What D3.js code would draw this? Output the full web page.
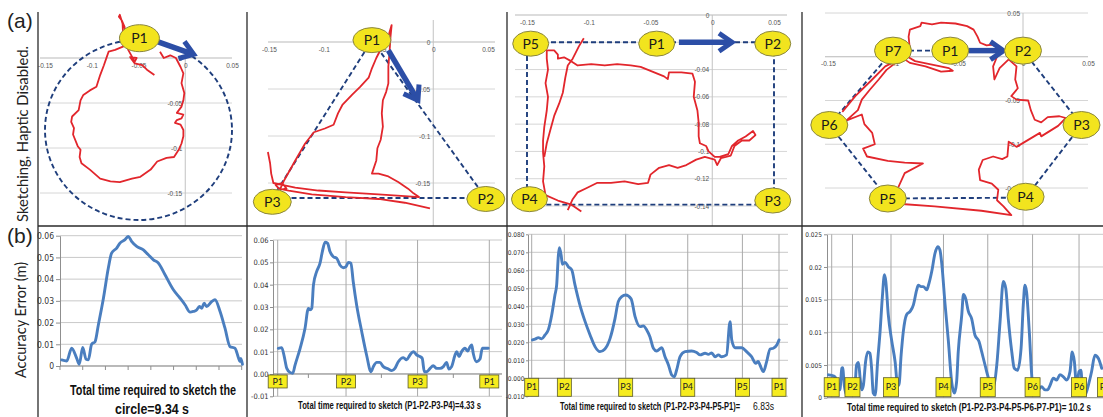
<!DOCTYPE html>
<html>
<head>
<meta charset="utf-8">
<script src="https://cdnjs.cloudflare.com/ajax/libs/d3/7.8.5/d3.min.js"></script>
<style>
  body { margin: 0; background: #fff; }
  svg { display: block; font-family: "Liberation Sans", Arial, sans-serif; }
</style>
</head>
<body>
<svg id="fig" width="1103" height="417"></svg>
<script>
// ---------- (a) sketched paths, metres ----------
const topXTicks = [-0.15, -0.1, -0.05, 0, 0.05];
const circleYTicks = [0, -0.05, -0.1, -0.15];
const triYTicks = [0, -0.05, -0.1, -0.15];
const rectYTicks = [0, -0.02, -0.04, -0.06, -0.08, -0.1, -0.12, -0.14];
const hexYTicks = [0.05, 0, -0.05, -0.1, -0.15];

// target shapes (dashed)
const circleGuide = [-0.05, -0.08, 0.1];   // cx, cy, r
const triGuide = [[-0.056, 0.002], [0.048, -0.166], [-0.147, -0.166]];
const rectGuide = [[-0.15, -0.02], [0.05, -0.02], [0.05, -0.139], [-0.15, -0.139]];
const hexGuide = [[-0.100, 0.007], [0.0, 0.007], [0.045, -0.078], [0.002, -0.161], [-0.104, -0.162], [-0.149, -0.078]];

// via-point labels
const circlePoints = [["P1", -0.049, 0.022]];
const triPoints = [["P1", -0.056, 0.002], ["P2", 0.048, -0.167], ["P3", -0.147, -0.170]];
const rectPoints = [["P5", -0.147, -0.021], ["P1", -0.045, -0.021], ["P2", 0.049, -0.021], ["P3", 0.049, -0.136], ["P4", -0.148, -0.135]];
const hexPoints = [["P7", -0.100, 0.007], ["P1", -0.056, 0.007], ["P2", 0.0, 0.007], ["P3", 0.045, -0.078], ["P4", 0.002, -0.160], ["P5", -0.104, -0.162], ["P6", -0.149, -0.078]];

// direction arrows
const circleArrow = [[-0.029, 0.018], [0.009, 0.004]];
const triArrow = [[-0.041, -0.009], [-0.014, -0.062]];
const rectArrow = [[-0.027, -0.020], [0.016, -0.020]];
const hexArrow = [[-0.042, 0.007], [-0.015, 0.007]];

// recorded end-effector traces
const circleTrace = [[-0.033,-0.019],[-0.041,-0.013],[-0.046,-0.008],[-0.054,-0.006],[-0.057,-0.002],[-0.059,0.001],[-0.052,0.000],[-0.054,-0.004],[-0.061,0.009],[-0.062,0.014],[-0.065,0.035],[-0.068,0.042],[-0.071,0.046],[-0.070,0.048],[-0.067,0.038],[-0.066,0.013],[-0.075,0.009],[-0.082,0.007],[-0.084,0.001],[-0.087,-0.008],[-0.091,-0.019],[-0.095,-0.032],[-0.102,-0.036],[-0.109,-0.041],[-0.112,-0.047],[-0.114,-0.058],[-0.121,-0.065],[-0.122,-0.071],[-0.119,-0.078],[-0.120,-0.085],[-0.115,-0.098],[-0.112,-0.102],[-0.113,-0.110],[-0.111,-0.117],[-0.102,-0.124],[-0.091,-0.134],[-0.080,-0.137],[-0.070,-0.138],[-0.057,-0.134],[-0.048,-0.132],[-0.037,-0.124],[-0.030,-0.115],[-0.020,-0.111],[-0.012,-0.110],[-0.007,-0.102],[-0.004,-0.095],[-0.002,-0.087],[-0.002,-0.080],[-0.005,-0.074],[-0.011,-0.072],[-0.009,-0.069],[-0.004,-0.067],[-0.002,-0.063],[-0.009,-0.061],[-0.004,-0.054],[-0.002,-0.047],[-0.001,-0.039],[-0.004,-0.028],[-0.002,-0.017],[-0.005,-0.010],[-0.010,0.000],[-0.016,0.003],[-0.023,0.000],[-0.027,0.007]];

const triTrace = [[-0.003,-0.177],[-0.026,-0.171],[-0.050,-0.167],[-0.080,-0.165],[-0.111,-0.162],[-0.132,-0.158],[-0.141,-0.156],[-0.144,-0.152],[-0.138,-0.150],[-0.134,-0.156],[-0.140,-0.157],[-0.137,-0.149],[-0.126,-0.126],[-0.117,-0.108],[-0.109,-0.096],[-0.099,-0.092],[-0.091,-0.088],[-0.087,-0.076],[-0.083,-0.067],[-0.074,-0.056],[-0.067,-0.048],[-0.059,-0.038],[-0.056,-0.028],[-0.052,-0.017],[-0.048,-0.008],[-0.041,0.006],[-0.038,0.018],[-0.039,0.006],[-0.040,-0.012],[-0.041,-0.026],[-0.041,-0.044],[-0.043,-0.053],[-0.046,-0.062],[-0.047,-0.076],[-0.046,-0.090],[-0.048,-0.104],[-0.051,-0.113],[-0.052,-0.126],[-0.056,-0.140],[-0.050,-0.140],[-0.041,-0.143],[-0.032,-0.149],[-0.023,-0.156],[-0.018,-0.161],[-0.013,-0.165],[-0.026,-0.164],[-0.050,-0.162],[-0.080,-0.160],[-0.105,-0.158],[-0.126,-0.155],[-0.138,-0.152],[-0.146,-0.150],[-0.148,-0.140],[-0.149,-0.129],[-0.151,-0.117]];

const rectTraceA = [[-0.106,-0.144],[-0.114,-0.139],[-0.125,-0.136],[-0.135,-0.132],[-0.137,-0.122],[-0.136,-0.111],[-0.137,-0.101],[-0.137,-0.092],[-0.136,-0.082],[-0.134,-0.070],[-0.133,-0.060],[-0.135,-0.050],[-0.133,-0.040],[-0.134,-0.032],[-0.134,-0.026],[-0.128,-0.026],[-0.125,-0.029],[-0.125,-0.032],[-0.120,-0.031],[-0.114,-0.034],[-0.109,-0.037],[-0.098,-0.036],[-0.087,-0.037],[-0.077,-0.036],[-0.066,-0.037],[-0.058,-0.038],[-0.047,-0.042],[-0.039,-0.045],[-0.036,-0.047],[-0.035,-0.042],[-0.025,-0.042],[-0.016,-0.043],[-0.014,-0.049],[-0.015,-0.060],[-0.012,-0.070],[-0.011,-0.079],[-0.011,-0.089],[-0.010,-0.094],[-0.005,-0.096],[-0.003,-0.100],[0.002,-0.104],[0.006,-0.104],[0.013,-0.102],[0.016,-0.096],[0.021,-0.092],[0.027,-0.089],[0.033,-0.085],[0.035,-0.088],[0.030,-0.092],[0.024,-0.092],[0.018,-0.096],[0.015,-0.103],[0.007,-0.105],[0.004,-0.110],[0.002,-0.106],[-0.006,-0.104],[-0.013,-0.106],[-0.021,-0.110],[-0.028,-0.112],[-0.035,-0.110],[-0.043,-0.112],[-0.050,-0.117],[-0.052,-0.123],[-0.060,-0.124],[-0.071,-0.122],[-0.082,-0.123],[-0.093,-0.123],[-0.102,-0.127],[-0.109,-0.130],[-0.113,-0.135],[-0.117,-0.143]];
const rectTraceB = [[-0.104,-0.017],[-0.108,-0.023],[-0.113,-0.032],[-0.117,-0.037],[-0.119,-0.046],[-0.121,-0.057],[-0.124,-0.065],[-0.128,-0.074],[-0.131,-0.084],[-0.134,-0.094],[-0.136,-0.104]];

const hexTrace = [[-0.139,-0.063],[-0.129,-0.045],[-0.116,-0.026],[-0.106,-0.011],[-0.098,-0.005],[-0.091,0.002],[-0.083,-0.005],[-0.070,-0.009],[-0.057,-0.013],[-0.054,-0.016],[-0.063,-0.017],[-0.075,-0.011],[-0.087,-0.007],[-0.091,-0.003],[-0.087,0.008],[-0.088,0.023],[-0.087,0.031],[-0.079,0.035],[-0.078,0.039],[-0.070,0.037],[-0.063,0.039],[-0.052,0.038],[-0.043,0.035],[-0.038,0.031],[-0.035,0.023],[-0.033,0.016],[-0.028,0.013],[-0.023,0.014],[-0.019,0.009],[-0.020,0.000],[-0.023,-0.011],[-0.022,-0.026],[-0.018,-0.013],[-0.011,-0.003],[-0.005,-0.011],[-0.006,-0.026],[-0.004,-0.036],[-0.009,-0.045],[-0.005,-0.049],[0.004,-0.050],[0.006,-0.061],[0.009,-0.072],[0.014,-0.075],[0.019,-0.069],[0.028,-0.068],[0.033,-0.070],[0.027,-0.079],[0.014,-0.091],[0.013,-0.087],[0.004,-0.095],[-0.005,-0.103],[-0.011,-0.097],[-0.012,-0.114],[-0.016,-0.117],[-0.023,-0.114],[-0.031,-0.118],[-0.034,-0.129],[-0.033,-0.141],[-0.024,-0.145],[-0.019,-0.152],[-0.020,-0.164],[-0.015,-0.171],[-0.009,-0.181],[-0.032,-0.176],[-0.068,-0.171],[-0.096,-0.168],[-0.098,-0.156],[-0.091,-0.133],[-0.077,-0.122],[-0.091,-0.121],[-0.104,-0.119],[-0.120,-0.114],[-0.123,-0.105],[-0.114,-0.100],[-0.116,-0.087],[-0.122,-0.077],[-0.124,-0.066],[-0.136,-0.073],[-0.127,-0.061],[-0.124,-0.049],[-0.118,-0.038],[-0.111,-0.026],[-0.105,-0.015],[-0.098,-0.007],[-0.092,-0.003]];

// ---------- (b) accuracy error over normalised time ----------
const circleT = [0.009,0.037,0.064,0.092,0.106,0.125,0.143,0.156,0.174,0.193,0.211,0.239,0.266,0.284,0.312,0.330,0.358,0.376,0.394,0.422,0.459,0.486,0.514,0.541,0.578,0.624,0.661,0.688,0.716,0.734,0.752,0.767,0.780,0.793,0.807,0.835,0.853,0.881,0.908,0.936,0.963,0.982,0.991,0.995,1.004];
const circleErr = [0.0028,0.0023,0.0082,0.0035,0.0008,0.0085,0.0032,0.0028,0.0100,0.0112,0.0189,0.0312,0.0451,0.0520,0.0543,0.0566,0.0582,0.0597,0.0574,0.0551,0.0535,0.0512,0.0489,0.0474,0.0420,0.0351,0.0312,0.0282,0.0248,0.0251,0.0258,0.0274,0.0266,0.0289,0.0274,0.0297,0.0305,0.0251,0.0174,0.0089,0.0082,0.0038,0.0020,0.0035,0.0008];

const triT = [0.003,0.019,0.031,0.043,0.058,0.071,0.082,0.106,0.129,0.145,0.153,0.161,0.169,0.184,0.200,0.211,0.224,0.236,0.247,0.263,0.279,0.294,0.310,0.323,0.334,0.346,0.357,0.373,0.397,0.420,0.441,0.452,0.468,0.483,0.499,0.523,0.539,0.554,0.570,0.594,0.609,0.625,0.641,0.657,0.672,0.683,0.693,0.704,0.720,0.735,0.751,0.767,0.783,0.798,0.809,0.822,0.838,0.846,0.857,0.869,0.885,0.898,0.909,0.917,0.924,0.940,0.956,0.967,0.980,0.995];
const triErr = [0.0115,0.0118,0.0078,0.0025,0.0007,0.0003,0.0040,0.0115,0.0204,0.0294,0.0287,0.0294,0.0399,0.0458,0.0496,0.0548,0.0590,0.0585,0.0548,0.0525,0.0518,0.0488,0.0476,0.0481,0.0500,0.0496,0.0413,0.0309,0.0190,0.0085,0.0010,0.0033,0.0052,0.0052,0.0033,0.0022,0.0015,0.0025,0.0055,0.0073,0.0063,0.0085,0.0100,0.0085,0.0078,0.0070,0.0010,0.0010,0.0025,0.0037,0.0025,0.0025,0.0033,0.0052,0.0022,0.0033,0.0085,0.0100,0.0078,0.0100,0.0115,0.0103,0.0122,0.0130,0.0093,0.0055,0.0067,0.0115,0.0115,0.0115];

const rectT = [0.003,0.016,0.027,0.040,0.054,0.067,0.081,0.094,0.101,0.108,0.112,0.119,0.124,0.135,0.148,0.162,0.175,0.195,0.216,0.236,0.256,0.276,0.296,0.317,0.337,0.350,0.364,0.380,0.402,0.418,0.438,0.451,0.465,0.478,0.492,0.505,0.526,0.539,0.553,0.566,0.577,0.586,0.600,0.620,0.647,0.667,0.681,0.701,0.714,0.728,0.741,0.755,0.768,0.788,0.802,0.809,0.822,0.849,0.869,0.889,0.906,0.916,0.923,0.937,0.950,0.964,0.977,0.991,1.000];
const rectErr = [0.0213,0.0219,0.0226,0.0219,0.0241,0.0269,0.0352,0.0463,0.0519,0.0685,0.0726,0.0685,0.0633,0.0644,0.0620,0.0602,0.0519,0.0407,0.0315,0.0241,0.0176,0.0148,0.0163,0.0222,0.0333,0.0426,0.0454,0.0463,0.0441,0.0343,0.0287,0.0291,0.0269,0.0231,0.0167,0.0152,0.0170,0.0120,0.0074,0.0019,0.0009,0.0046,0.0120,0.0148,0.0152,0.0143,0.0130,0.0139,0.0133,0.0141,0.0120,0.0130,0.0120,0.0130,0.0315,0.0213,0.0170,0.0170,0.0148,0.0120,0.0083,0.0093,0.0074,0.0037,0.0093,0.0163,0.0167,0.0185,0.0213];

const hexT = [-0.012,0.000,0.012,0.024,0.030,0.037,0.040,0.046,0.055,0.061,0.073,0.085,0.091,0.098,0.104,0.110,0.116,0.124,0.132,0.140,0.146,0.152,0.159,0.168,0.177,0.185,0.193,0.198,0.207,0.220,0.232,0.241,0.246,0.254,0.262,0.274,0.287,0.299,0.311,0.317,0.327,0.335,0.348,0.354,0.366,0.378,0.388,0.396,0.402,0.415,0.427,0.439,0.449,0.457,0.463,0.476,0.482,0.490,0.500,0.512,0.524,0.539,0.549,0.561,0.576,0.591,0.604,0.616,0.628,0.637,0.646,0.659,0.668,0.680,0.693,0.701,0.707,0.713,0.723,0.734,0.744,0.756,0.768,0.780,0.790,0.799,0.811,0.823,0.835,0.848,0.860,0.872,0.880,0.888,0.896,0.905,0.912,0.918,0.927,0.939,0.951,0.963,0.976,0.988];
const hexErr = [0.0035,0.0034,0.0032,0.0019,0.0012,0.0045,0.0046,0.0019,0.0004,0.0009,0.0012,0.0019,0.0050,0.0054,0.0030,0.0012,0.0019,0.0055,0.0070,0.0068,0.0045,0.0007,0.0004,0.0055,0.0101,0.0152,0.0188,0.0178,0.0127,0.0086,0.0055,0.0019,0.0019,0.0065,0.0101,0.0127,0.0132,0.0142,0.0165,0.0172,0.0170,0.0170,0.0165,0.0172,0.0193,0.0221,0.0231,0.0226,0.0208,0.0142,0.0086,0.0024,0.0007,0.0024,0.0070,0.0127,0.0158,0.0152,0.0132,0.0121,0.0096,0.0086,0.0070,0.0050,0.0027,0.0017,0.0050,0.0116,0.0178,0.0167,0.0121,0.0070,0.0045,0.0042,0.0076,0.0142,0.0172,0.0162,0.0101,0.0024,0.0009,0.0012,0.0017,0.0012,0.0012,0.0019,0.0030,0.0027,0.0035,0.0032,0.0027,0.0040,0.0070,0.0055,0.0017,0.0040,0.0042,0.0009,0.0004,0.0019,0.0040,0.0065,0.0060,0.0045];

// y ticks and their labels
const circleErrTicks = [0, 0.01, 0.02, 0.03, 0.04, 0.05, 0.06];
const circleErrLabels = ["0", "0.01", "0.02", "0.03", "0.04", "0.05", "0.06"];
const triErrTicks = [-0.01, 0, 0.01, 0.02, 0.03, 0.04, 0.05, 0.06];
const triErrLabels = ["-0.01", "0.00", "0.01", "0.02", "0.03", "0.04", "0.05", "0.06"];
const rectErrTicks = [-0.01, 0, 0.01, 0.02, 0.03, 0.04, 0.05, 0.06, 0.07, 0.08];
const rectErrLabels = ["-0.010", "0.000", "0.010", "0.020", "0.030", "0.040", "0.050", "0.060", "0.070", "0.080"];
const hexErrTicks = [0, 0.005, 0.01, 0.015, 0.02, 0.025];
const hexErrLabels = ["0", "0.005", "0.01", "0.015", "0.02", "0.025"];

// via-point markers on the time axis
const circleTimeTicks = [0, 0.125, 0.25, 0.375, 0.5, 0.625, 0.75, 0.875, 1];
const triMarkT = [0, 0.323, 0.661, 1];
const triMarkLabels = ["P1", "P2", "P3", "P1"];
const triTimeTicks = [0, 0.145, 0.323, 0.49, 0.661, 0.83, 1];
const rectMarkT = [0, 0.132, 0.38, 0.631, 0.852, 1];
const rectMarkLabels = ["P1", "P2", "P3", "P4", "P5", "P1"];
const hexMarkT = [0, 0.076, 0.217, 0.409, 0.571, 0.735, 0.905, 1];
const hexMarkLabels = ["P1", "P2", "P3", "P4", "P5", "P6", "P6", "P1"];

// ---------- drawing ----------
const svg = d3.select("#fig");
const RED = "#e2262c", NAVY = "#1f3e7c", ARROW_BLUE = "#2c4ea6", LINE_BLUE = "#4a7ebf";
const ELLIPSE_FILL = "#f2e41e", BOX_FILL = "#f6ec1e";

function drawArrow(g, a, b) {
  const ang = Math.atan2(b[1] - a[1], b[0] - a[0]);
  const c = Math.cos(ang), s = Math.sin(ang);
  const L = 13, W = 9;
  const bx = b[0] - L * c, by = b[1] - L * s;
  g.append("line")
    .attr("x1", a[0]).attr("y1", a[1])
    .attr("x2", b[0] - 4 * c).attr("y2", b[1] - 4 * s)
    .attr("stroke", ARROW_BLUE).attr("stroke-width", 5.5);
  g.append("polyline")
    .attr("points", [[bx - s * W, by + c * W], [b[0], b[1]], [bx + s * W, by - c * W]].map(p => p.join(",")).join(" "))
    .attr("fill", "none").attr("stroke", ARROW_BLUE).attr("stroke-width", 5)
    .attr("stroke-linejoin", "miter");
}

function drawTop(p) {
  const x = d3.scaleLinear().domain([-0.15, 0.05]).range(p.xr);
  const y = d3.scaleLinear().domain(p.yd).range(p.yr);
  const g = svg.append("g");

  g.selectAll("line.grid").data(p.yTicks).join("line")
    .attr("x1", p.gx[0]).attr("x2", p.gx[1])
    .attr("y1", d => y(d)).attr("y2", d => y(d))
    .attr("stroke", d => d === 0 ? "#b9b9b9" : "#d6d6d6").attr("stroke-width", 1);
  g.append("line")
    .attr("x1", x(0)).attr("x2", x(0)).attr("y1", p.vaxis[0]).attr("y2", p.vaxis[1])
    .attr("stroke", "#c2c2c2");

  const xa = g.append("g").attr("transform", `translate(0,${y(0)})`)
    .call(d3.axisBottom(x).tickValues(topXTicks).tickSize(0).tickPadding(5).tickFormat(d => String(d)));
  const ya = g.append("g").attr("transform", `translate(${x(0)},0)`)
    .call(d3.axisLeft(y).tickValues(p.yTicks).tickSize(0).tickPadding(3).tickFormat(d => String(d)));
  [xa, ya].forEach(a => {
    a.select(".domain").remove();
    a.selectAll("text").attr("font-size", 6.5).attr("fill", "#555")
      .attr("font-family", "'Liberation Sans', Arial, sans-serif");
  });

  // dashed target shape
  if (p.circle) {
    const c = p.circle;
    g.append("ellipse")
      .attr("cx", x(c[0])).attr("cy", y(c[1]))
      .attr("rx", x(c[2]) - x(0)).attr("ry", y(0) - y(c[2]))
      .attr("fill", "none").attr("stroke", NAVY).attr("stroke-width", 1.9)
      .attr("stroke-dasharray", "5,3");
  } else {
    g.append("path")
      .attr("d", d3.line().x(d => x(d[0])).y(d => y(d[1]))(p.poly) + "Z")
      .attr("fill", "none").attr("stroke", NAVY).attr("stroke-width", 1.9)
      .attr("stroke-dasharray", "5,3");
  }

  // recorded traces
  const trace = d3.line().x(d => x(d[0])).y(d => y(d[1]));
  p.traces.forEach(t => {
    g.append("path").attr("d", trace(t))
      .attr("fill", "none").attr("stroke", RED).attr("stroke-width", 1.8)
      .attr("stroke-linejoin", "round");
  });

  drawArrow(g, [x(p.arrow[0][0]), y(p.arrow[0][1])], [x(p.arrow[1][0]), y(p.arrow[1][1])]);

  const lab = g.selectAll("g.pt").data(p.points).join("g")
    .attr("transform", d => `translate(${x(d[1])},${y(d[2])})`);
  lab.append("ellipse").attr("rx", p.rx).attr("ry", p.ry)
    .attr("fill", ELLIPSE_FILL).attr("stroke", "#8a8640").attr("stroke-width", 1);
  lab.append("text").text(d => d[0])
    .attr("text-anchor", "middle").attr("dy", "0.36em")
    .attr("font-family", "Lato, 'Open Sans', sans-serif").attr("font-size", 14)
    .attr("fill", "#1a1a1a");
}

function drawBottom(p) {
  const x = d3.scaleLinear().domain([0, 1]).range(p.xr);
  const y = d3.scaleLinear().domain(p.yd).range(p.yr);
  const g = svg.append("g");

  g.selectAll("line.h").data(p.yTicks).join("line")
    .attr("x1", p.gx[0]).attr("x2", p.gx[1])
    .attr("y1", d => y(d)).attr("y2", d => y(d))
    .attr("stroke", "#c9c9c9");

  if (p.marks) {
    g.selectAll("line.v").data(p.marks).join("line")
      .attr("x1", d => x(d)).attr("x2", d => x(d))
      .attr("y1", y(d3.max(p.yTicks))).attr("y2", y(d3.min(p.yTicks)))
      .attr("stroke", "#a9a9a9");
  }

  const ya = g.append("g").attr("transform", `translate(${p.gx[0]},0)`)
    .call(d3.axisLeft(y).tickValues(p.yTicks).tickFormat((d, i) => p.yLabels[i])
      .tickSize(p.tick).tickSizeOuter(0).tickPadding(p.pad));
  ya.select(".domain").attr("stroke", "#8f8f8f");
  ya.selectAll(".tick line").attr("stroke", "#8f8f8f");
  ya.selectAll("text").attr("font-size", p.fs).attr("fill", "#333")
    .attr("font-family", "'Liberation Sans Narrow', 'DejaVu Sans Condensed', 'Liberation Sans', sans-serif");

  g.append("line").attr("x1", p.gx[0]).attr("x2", p.gx[1])
    .attr("y1", y(0)).attr("y2", y(0)).attr("stroke", "#8f8f8f");
  if (p.xTicks) {
    g.selectAll("line.xt").data(p.xTicks).join("line")
      .attr("x1", d => x(d)).attr("x2", d => x(d))
      .attr("y1", y(0)).attr("y2", y(0) + 4).attr("stroke", "#8f8f8f");
  }

  g.append("path").datum(d3.zip(p.t, p.v))
    .attr("d", d3.line().x(d => x(d[0])).y(d => y(d[1])).curve(d3.curveMonotoneX))
    .attr("fill", "none").attr("stroke", LINE_BLUE).attr("stroke-width", 2.9)
    .attr("stroke-linejoin", "round").attr("stroke-linecap", "round");

  if (p.marks) {
    const b = g.selectAll("g.box").data(d3.zip(p.marks, p.markLabels)).join("g")
      .attr("transform", d => `translate(${x(d[0])},${y(0) + p.boxDy})`);
    b.append("rect").attr("x", -p.boxW / 2).attr("y", 0).attr("width", p.boxW).attr("height", p.boxH)
      .attr("fill", BOX_FILL).attr("stroke", "#5a5a2a").attr("stroke-width", 0.8);
    b.append("text").text(d => d[1]).attr("text-anchor", "middle")
      .attr("x", 0).attr("y", p.boxH / 2).attr("dy", "0.35em")
      .attr("font-size", 9).attr("fill", "#222")
      .attr("font-family", "Lato, 'Open Sans', sans-serif");
  }
}

// top row
drawTop({ xr: [45, 232], yd: [0, -0.15], yr: [58, 193], gx: [40, 232], vaxis: [50, 226],
  yTicks: circleYTicks, circle: circleGuide, traces: [circleTrace], arrow: circleArrow,
  points: circlePoints, rx: 20, ry: 13.5 });
drawTop({ xr: [269, 488], yd: [0, -0.15], yr: [42, 183], gx: [268, 495], vaxis: [20, 226],
  yTicks: triYTicks, poly: triGuide, traces: [triTrace], arrow: triArrow,
  points: triPoints, rx: 19, ry: 12.5 });
drawTop({ xr: [527, 774], yd: [0, -0.14], yr: [15, 206], gx: [515, 787], vaxis: [15, 226],
  yTicks: rectYTicks, poly: rectGuide, traces: [rectTraceA, rectTraceB], arrow: rectArrow,
  points: rectPoints, rx: 18, ry: 12.5 });
drawTop({ xr: [828, 1088], yd: [0.05, -0.15], yr: [13, 188], gx: [825, 1088], vaxis: [13, 226],
  yTicks: hexYTicks, poly: hexGuide, traces: [hexTrace], arrow: hexArrow,
  points: hexPoints, rx: 18.5, ry: 13.5 });

// bottom row
drawBottom({ xr: [60, 241.7], yd: [0, 0.06], yr: [366, 235.7], gx: [60, 242],
  yTicks: circleErrTicks, yLabels: circleErrLabels, tick: 4, pad: 2, fs: 8.5,
  xTicks: circleTimeTicks, t: circleT, v: circleErr });
drawBottom({ xr: [277.7, 489.3], yd: [-0.01, 0.06], yr: [396.3, 240], gx: [273, 502],
  yTicks: triErrTicks, yLabels: triErrLabels, tick: 3, pad: 1.5, fs: 7.5,
  xTicks: triTimeTicks, t: triT, v: triErr,
  marks: triMarkT, markLabels: triMarkLabels, boxW: 19, boxH: 13, boxDy: 1 });
drawBottom({ xr: [531.7, 779], yd: [-0.01, 0.08], yr: [396.3, 234.3], gx: [528, 788],
  yTicks: rectErrTicks, yLabels: rectErrLabels, tick: 2, pad: 1.5, fs: 6.5,
  t: rectT, v: rectErr,
  marks: rectMarkT, markLabels: rectMarkLabels, boxW: 14, boxH: 18, boxDy: 0 });
drawBottom({ xr: [831.7, 1105], yd: [0, 0.025], yr: [397.7, 234.3], gx: [827, 1103],
  yTicks: hexErrTicks, yLabels: hexErrLabels, tick: 3, pad: 2, fs: 6.5,
  t: hexT, v: hexErr,
  marks: hexMarkT, markLabels: hexMarkLabels, boxW: 15, boxH: 19, boxDy: -20 });

// captions
const capFont = "'Liberation Sans Narrow', 'Liberation Sans', Arial, sans-serif";
function caption(txt, x0, w, yb, size, weight) {
  svg.append("text").text(txt)
    .attr("x", x0).attr("y", yb)
    .attr("textLength", w).attr("lengthAdjust", "spacingAndGlyphs")
    .attr("font-family", capFont).attr("font-size", size)
    .attr("font-weight", weight || "bold").attr("fill", "#111");
}
caption("Total time required to sketch the", 70, 166, 395, 15);
caption("circle=9.34 s", 115, 74, 414, 15);
caption("Total time required to sketch (P1-P2-P3-P4)=4.33 s", 298, 183, 409, 11);
caption("Total time required to sketch (P1-P2-P3-P4-P5-P1)=", 560, 180, 410, 11);
caption("6.83s", 753, 21, 410, 10, "normal");
caption("Total time required to sketch (P1-P2-P3-P4-P5-P6-P7-P1)= 10.2  s", 847, 244, 411, 11.5);

// row labels
svg.append("text").text("(a)").attr("x", 7).attr("y", 28)
  .attr("font-size", 21).attr("fill", "#222");
svg.append("text").text("(b)").attr("x", 7).attr("y", 243)
  .attr("font-size", 21).attr("fill", "#222");
svg.append("text").text("Sketching, Haptic Disabled.")
  .attr("transform", "translate(28,134) rotate(-90)")
  .attr("text-anchor", "middle").attr("textLength", 176).attr("lengthAdjust", "spacingAndGlyphs")
  .attr("font-family", "Lato, 'Open Sans', sans-serif").attr("font-size", 15.5).attr("fill", "#222");
svg.append("text").text("Accuracy Error (m)")
  .attr("transform", "translate(26,320) rotate(-90)")
  .attr("text-anchor", "middle").attr("textLength", 116).attr("lengthAdjust", "spacingAndGlyphs")
  .attr("font-family", "Lato, 'Open Sans', sans-serif").attr("font-size", 15.5).attr("fill", "#222");

// panel frame
const frame = [[38, 12, 38, 417], [247, 12, 247, 417], [507, 12, 507, 417], [802, 12, 802, 417], [38, 226, 1103, 226]];
svg.append("g").selectAll("line").data(frame).join("line")
  .attr("x1", d => d[0]).attr("y1", d => d[1]).attr("x2", d => d[2]).attr("y2", d => d[3])
  .attr("stroke", "#2a2a2a").attr("stroke-width", 1.3);
</script>
</body>
</html>
